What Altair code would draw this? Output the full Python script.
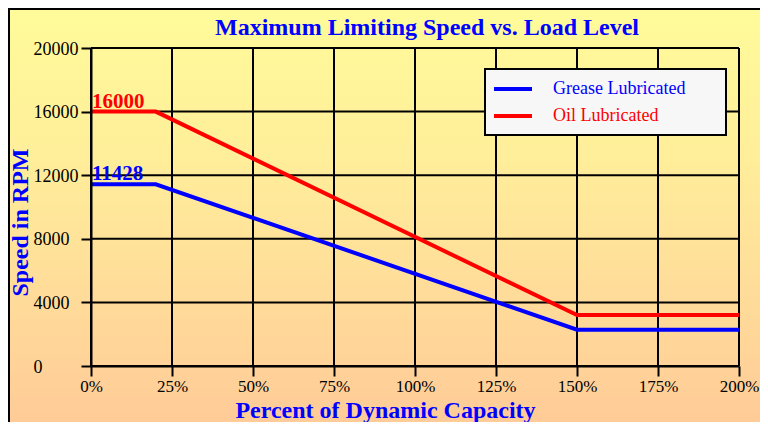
import altair as alt
import pandas as pd

# ---- data ----
x_pct = [0, 20, 150, 200]
grease = [11428, 11428, 2286, 2286]
oil = [16000, 16000, 3200, 3200]
series_names = ["Grease Lubricated", "Oil Lubricated"]
series_colors = ["#0000FF", "#FF0000"]
x_ticks = [0, 25, 50, 75, 100, 125, 150, 175, 200]
y_ticks = [0, 4000, 8000, 12000, 16000, 20000]
ann_values = [16000, 11428]
ann_series = ["Oil Lubricated", "Grease Lubricated"]
ann_labels = ["16000", "11428"]
title_text = "Maximum Limiting Speed vs. Load Level"

W, H = 648, 318
PAD_L, PAD_T, PAD_R, PAD_B = 83, 40, 21, 56
FONT = "Liberation Serif"

rows = []
for s, vals in zip(series_names, [grease, oil]):
    for x, y in zip(x_pct, vals):
        rows.append({"pct": x, "speed": y, "series": s})
df = pd.DataFrame(rows)
ann_df = pd.DataFrame({"pct": [0, 0], "speed": ann_values,
                       "series": ann_series, "label": ann_labels})

xscale = alt.Scale(domain=[0, 200], nice=False, zero=False)
yscale = alt.Scale(domain=[0, 20000], nice=False)
cscale = alt.Scale(domain=series_names, range=series_colors)

x_axis = alt.Axis(
    values=x_ticks, labelExpr="datum.value + '%'", grid=False,
    domainColor="black", domainWidth=2, tickColor="black", tickWidth=2,
    tickSize=10, labelFont=FONT, labelFontSize=17, labelColor="black",
    labelPadding=2, labelFlush=False, labelOverlap=False,
    title="Percent of Dynamic Capacity", titleFont=FONT, titleFontSize=24,
    titleFontWeight="bold", titleColor="#0000FF", titleX=294, titleY=51,
    titleBaseline="alphabetic", titleAlign="center", zindex=1)

y_axis = alt.Axis(
    values=y_ticks, format="d", grid=False,
    domainColor="black", domainWidth=2, tickColor="black", tickWidth=2,
    tickSize=10, labelFont=FONT, labelFontSize=18, labelColor="black",
    labelPadding=48, labelAlign="left", labelOffset=1, labelOverlap=False,
    labelFlush=False,
    title="Speed in RPM", titleFont=FONT, titleFontSize=24,
    titleFontWeight="bold", titleColor="#0000FF", titleX=-71, titleY=174,
    titleAngle=270, titleBaseline="middle", titleAlign="center", zindex=1)

grad = alt.Gradient(
    gradient="linear", x1=0, y1=0, x2=0, y2=1,
    stops=[alt.GradientStop(color="#FFFB9A", offset=0),
           alt.GradientStop(color="#FFEE9A", offset=0.35),
           alt.GradientStop(color="#FFCA98", offset=1)])

bg = alt.Chart(alt.Data(values=[{"a": 1}])).mark_rect(
    fill=grad, stroke="black", strokeWidth=2
).encode(
    x=alt.value(-PAD_L + 1), x2=alt.value(W + PAD_R + 10),
    y=alt.value(-PAD_T + 1), y2=alt.value(H + PAD_B + 10)
)

title_mark = alt.Chart(alt.Data(values=[{"t": title_text}])).mark_text(
    font=FONT, fontSize=24, fontWeight="bold", color="#0000FF",
    align="center", baseline="alphabetic"
).encode(text="t:N", x=alt.value(336), y=alt.value(-13))

vgrid = alt.Chart(pd.DataFrame({"t": x_ticks})).mark_rule(
    color="black", strokeWidth=2
).encode(x=alt.X("t:Q", scale=xscale, axis=x_axis))

hgrid = alt.Chart(pd.DataFrame({"v": y_ticks})).mark_rule(
    color="black", strokeWidth=2
).encode(y=alt.Y("v:Q", scale=yscale, axis=y_axis))

legend = alt.Legend(
    orient="none", legendX=394, legendY=21,
    title="MM", titleOrient="right", titleOpacity=0, titleFont=FONT,
    titleFontSize=10, titlePadding=12,
    symbolType="M-2.375,0H2.375", symbolStrokeWidth=4, symbolSize=256,
    symbolOffset=8,
    labelFont=FONT, labelFontSize=18, labelOffset=30,
    labelColor=alt.ExprRef("datum.value == 'Oil Lubricated' ? '#FF0000' : '#0000FF'"),
    fillColor="#F7F7F7", strokeColor="black", padding=10, rowPadding=8)

lines = alt.Chart(df).mark_line(strokeWidth=4).encode(
    x=alt.X("pct:Q", scale=xscale, axis=x_axis),
    y=alt.Y("speed:Q", scale=yscale, axis=y_axis),
    color=alt.Color("series:N", scale=cscale, legend=legend),
)

ann = alt.Chart(ann_df).mark_text(
    align="left", baseline="alphabetic", dx=1, dy=-4,
    font=FONT, fontSize=21, fontWeight="bold"
).encode(
    x=alt.X("pct:Q", scale=xscale, axis=x_axis),
    y=alt.Y("speed:Q", scale=yscale, axis=y_axis),
    text="label:N",
    color=alt.Color("series:N", scale=cscale, legend=None),
)

chart = alt.layer(bg, title_mark, vgrid, hgrid, lines, ann).properties(
    width=W, height=H,
    padding={"left": PAD_L, "top": PAD_T, "right": PAD_R, "bottom": PAD_B},
    autosize=alt.AutoSizeParams(type="none"),
).configure_view(stroke=None).configure(background="white").configure_legend(strokeWidth=2)

chart.save("out.html", embed_options={"renderer": "svg", "actions": False})
